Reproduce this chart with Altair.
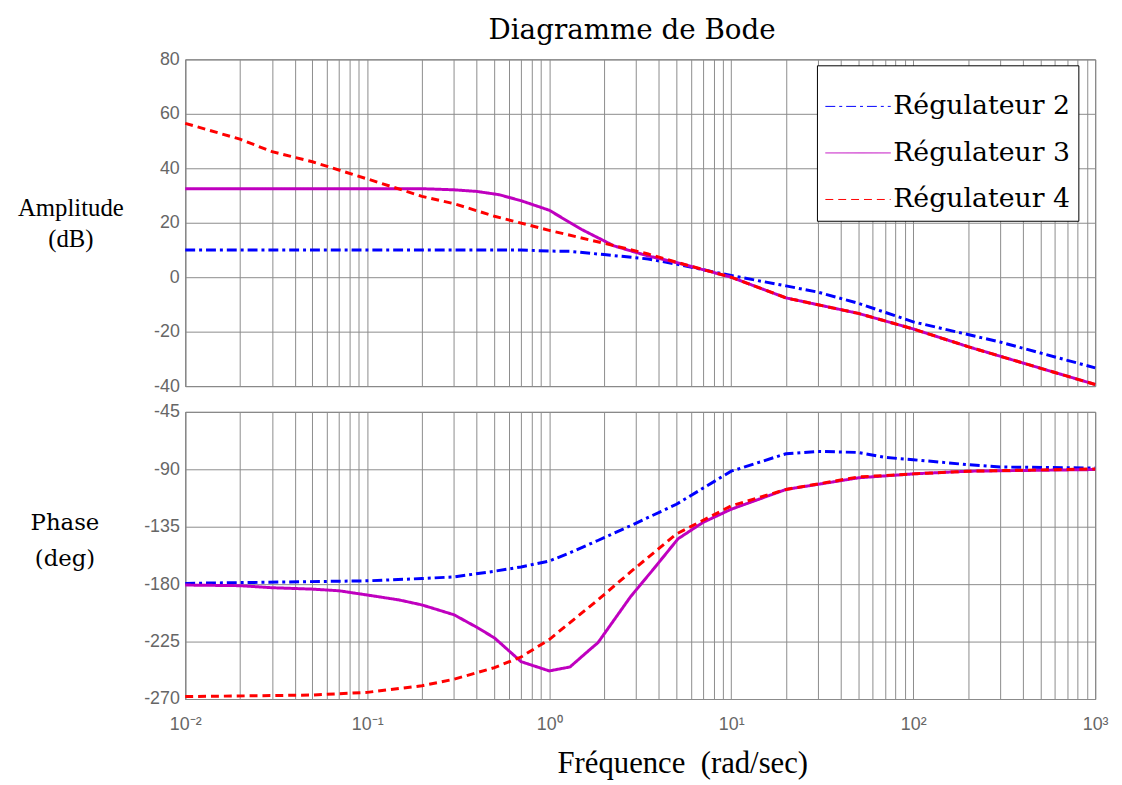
import altair as alt
import pandas as pd

series_names = ["Régulateur 2", "Régulateur 3", "Régulateur 4"]
series_colors = ["#0000FF", "#BF00BF", "#FF0000"]
series_dashes = [[10, 4, 3, 4], [1, 0], [8, 5]]

# Amplitude (dB)
amp_f_r2 = [0.01, 0.1, 0.5, 0.7, 1.0, 1.3, 2, 3.5, 5, 10, 20, 30, 50, 100, 300, 1000]
amp_r2 = [10, 10, 10, 10, 9.6, 9.5, 8.3, 6.7, 4.8, 0.6, -3.2, -5.5, -9.6, -16.4, -23.8, -33.3]

amp_f_r3 = [0.01, 0.1, 0.2, 0.3, 0.4, 0.53, 0.7, 1.0, 1.5, 2.27, 3.45, 5, 10, 20, 50, 100, 200, 1000]
amp_r3 = [32.5, 32.5, 32.5, 32.1, 31.5, 30.3, 28.1, 24.6, 17.6, 11.5, 7.9, 5.4, 0, -7.6, -13.3, -19, -25.5, -39.4]

amp_f_r4 = [0.01, 0.02, 0.03, 0.05, 0.1, 0.2, 0.3, 0.5, 1, 2.3, 3.5, 5, 10, 20, 50, 100, 200, 1000]
amp_r4 = [56.5, 50.7, 46.1, 42.4, 36.1, 29.7, 27.0, 22.4, 17.2, 11.5, 8.5, 5.5, 0, -7.6, -13.3, -19, -25.5, -39.4]

# Phase (deg)
ph_f_r2 = [0.01, 0.1, 0.2, 0.3, 0.5, 0.7, 1, 1.26, 1.85, 2.8, 5, 10, 20, 30, 50, 70, 100, 200, 300, 1000]
ph_r2 = [-179.4, -177.4, -175.6, -174.3, -169.9, -166.5, -161.9, -156.2, -145.8, -134.2, -117.4, -91.5, -77.8, -76, -76.8, -80.7, -82.5, -86.4, -88.2, -89]

ph_f_r3 = [0.01, 0.02, 0.03, 0.05, 0.07, 0.1, 0.15, 0.2, 0.3, 0.4, 0.5, 0.7, 1.0, 1.3, 1.7, 1.85, 2.8, 3.76, 5.1, 7, 10, 20, 50, 100, 200, 1000]
ph_r3 = [-180.7, -181.2, -182.8, -183.9, -185.2, -188.5, -192.4, -196.3, -204, -213.8, -222.1, -240.7, -248, -244.9, -230.4, -226, -189.8, -167.8, -144.5, -131.6, -121.3, -105.8, -96.7, -93.6, -91.5, -90.2]

ph_f_r4 = [0.01, 0.05, 0.1, 0.2, 0.3, 0.5, 0.7, 1, 1.85, 2.8, 5, 10, 20, 50, 100, 200, 1000]
ph_r4 = [-268.1, -266.9, -264.8, -259.6, -254.5, -245.4, -237.1, -223.4, -192.4, -170.4, -140.7, -118.7, -105.8, -96, -93.6, -91.5, -89.7]

amp_ticks = [-40, -20, 0, 20, 40, 60, 80]
ph_ticks = [-270, -225, -180, -135, -90, -45]
decade_labels = {"0.01": "10⁻²", "0.1": "10⁻¹", "1": "10⁰", "10": "10¹", "100": "10²", "1000": "10³"}


def build(fs_list, vs_list):
    rows = []
    for name, fs, vs in zip(series_names, fs_list, vs_list):
        for f, v in zip(fs, vs):
            rows.append({"series": name, "f": f, "v": v})
    return pd.DataFrame(rows)


amp_df = build([amp_f_r2, amp_f_r3, amp_f_r4], [amp_r2, amp_r3, amp_r4])
ph_df = build([ph_f_r2, ph_f_r3, ph_f_r4], [ph_r2, ph_r3, ph_r4])

grid_vals = []
for e in range(-2, 3):
    for m in range(1, 10):
        grid_vals.append(round(m * 10 ** e, 6))
grid_vals.append(1000)

label_expr = " : ".join(
    [f"datum.value == {k} ? '{v}'" for k, v in decade_labels.items()]
) + " : ''"

xscale = alt.Scale(type="log", domain=[0.01, 1000], nice=False)
serif = "Liberation Serif"
wide_serif = "DejaVu Serif"
sans = "Liberation Sans"

color_scale = alt.Scale(domain=series_names, range=series_colors)
dash_scale = alt.Scale(domain=series_names, range=series_dashes)

top_x = alt.X("f:Q", scale=xscale,
              axis=alt.Axis(values=grid_vals, labels=False, ticks=False, domain=False, title=None,
                            minExtent=0, maxExtent=0))
top_y = alt.Y("v:Q", scale=alt.Scale(domain=[-40, 80], nice=False),
              axis=alt.Axis(values=amp_ticks, labelExpr="'' + datum.value",
                            title=["Amplitude", "(dB)"], titleAngle=0,
                            titleX=-116, titleY=150, titleAlign="center", titleBaseline="middle",
                            titleFont=serif, titleFontSize=25, titleFontWeight="normal",
                            titleColor="black", titleLineHeight=31))

legend_layer = alt.Chart(amp_df).transform_filter("false").mark_line(strokeWidth=1).encode(
    x=top_x, y=top_y,
    color=alt.Color("series:N", scale=color_scale,
                    legend=alt.Legend(orient="none", legendX=638, legendY=6, title=None,
                                      labelFont=wide_serif, labelFontSize=27, labelColor="black",
                                      symbolType="stroke", symbolSize=4356, symbolStrokeWidth=1,
                                      padding=8, strokeColor="black", fillColor="white",
                                      cornerRadius=0, labelOffset=2, labelLimit=400,
                                      rowPadding=0)),
)

amp_lines = alt.Chart(amp_df).mark_line(strokeWidth=3).encode(
    x=top_x, y=top_y,
    color=alt.Color("series:N", scale=color_scale, legend=None),
    strokeDash=alt.StrokeDash("series:N", scale=dash_scale, legend=None),
)

top = alt.layer(legend_layer, amp_lines).properties(width=919, height=330)

bottom = alt.Chart(ph_df).mark_line(strokeWidth=3).encode(
    x=alt.X("f:Q", scale=xscale,
            axis=alt.Axis(values=grid_vals, labelExpr=label_expr, ticks=False, domain=False,
                          labelOverlap=False, labelFlush=False, labelPadding=17, labelFontSize=18,
                          title="Fréquence \u00a0(rad/sec)", titleFont=serif, titleFontSize=31,
                          titleFontWeight="normal", titleColor="black",
                          titleX=502, titleY=65, titleAlign="center", titleBaseline="middle")),
    y=alt.Y("v:Q", scale=alt.Scale(domain=[-270, -45], nice=False),
            axis=alt.Axis(values=ph_ticks, labelExpr="'' + datum.value",
                          title=["Phase", "(deg)"], titleAngle=0,
                          titleX=-122, titleY=112, titleAlign="center", titleBaseline="middle",
                          titleFont=wide_serif, titleFontSize=23, titleFontWeight="normal",
                          titleColor="black", titleLineHeight=36)),
    color=alt.Color("series:N", scale=color_scale, legend=None),
    strokeDash=alt.StrokeDash("series:N", scale=dash_scale, legend=None),
).properties(width=919, height=290)

chart = alt.vconcat(top, bottom, spacing=6).resolve_scale(
    color="independent", strokeDash="independent"
).properties(
    title=alt.TitleParams(text="Diagramme de Bode", font=wide_serif, fontSize=28, fontWeight="normal",
                          color="black", anchor="middle", dx=70, offset=5),
    padding={"left": 9, "top": 5, "right": 5, "bottom": 5},
).configure_view(
    stroke="#666666", strokeWidth=1
).configure_axis(
    gridColor="#8c8c8c", gridWidth=1, gridOpacity=1,
    labelFont=sans, labelFontSize=18, labelColor="#666666", labelPadding=6,
    tickSize=0
)

chart.save("out.html", embed_options={"renderer": "svg", "actions": False})
